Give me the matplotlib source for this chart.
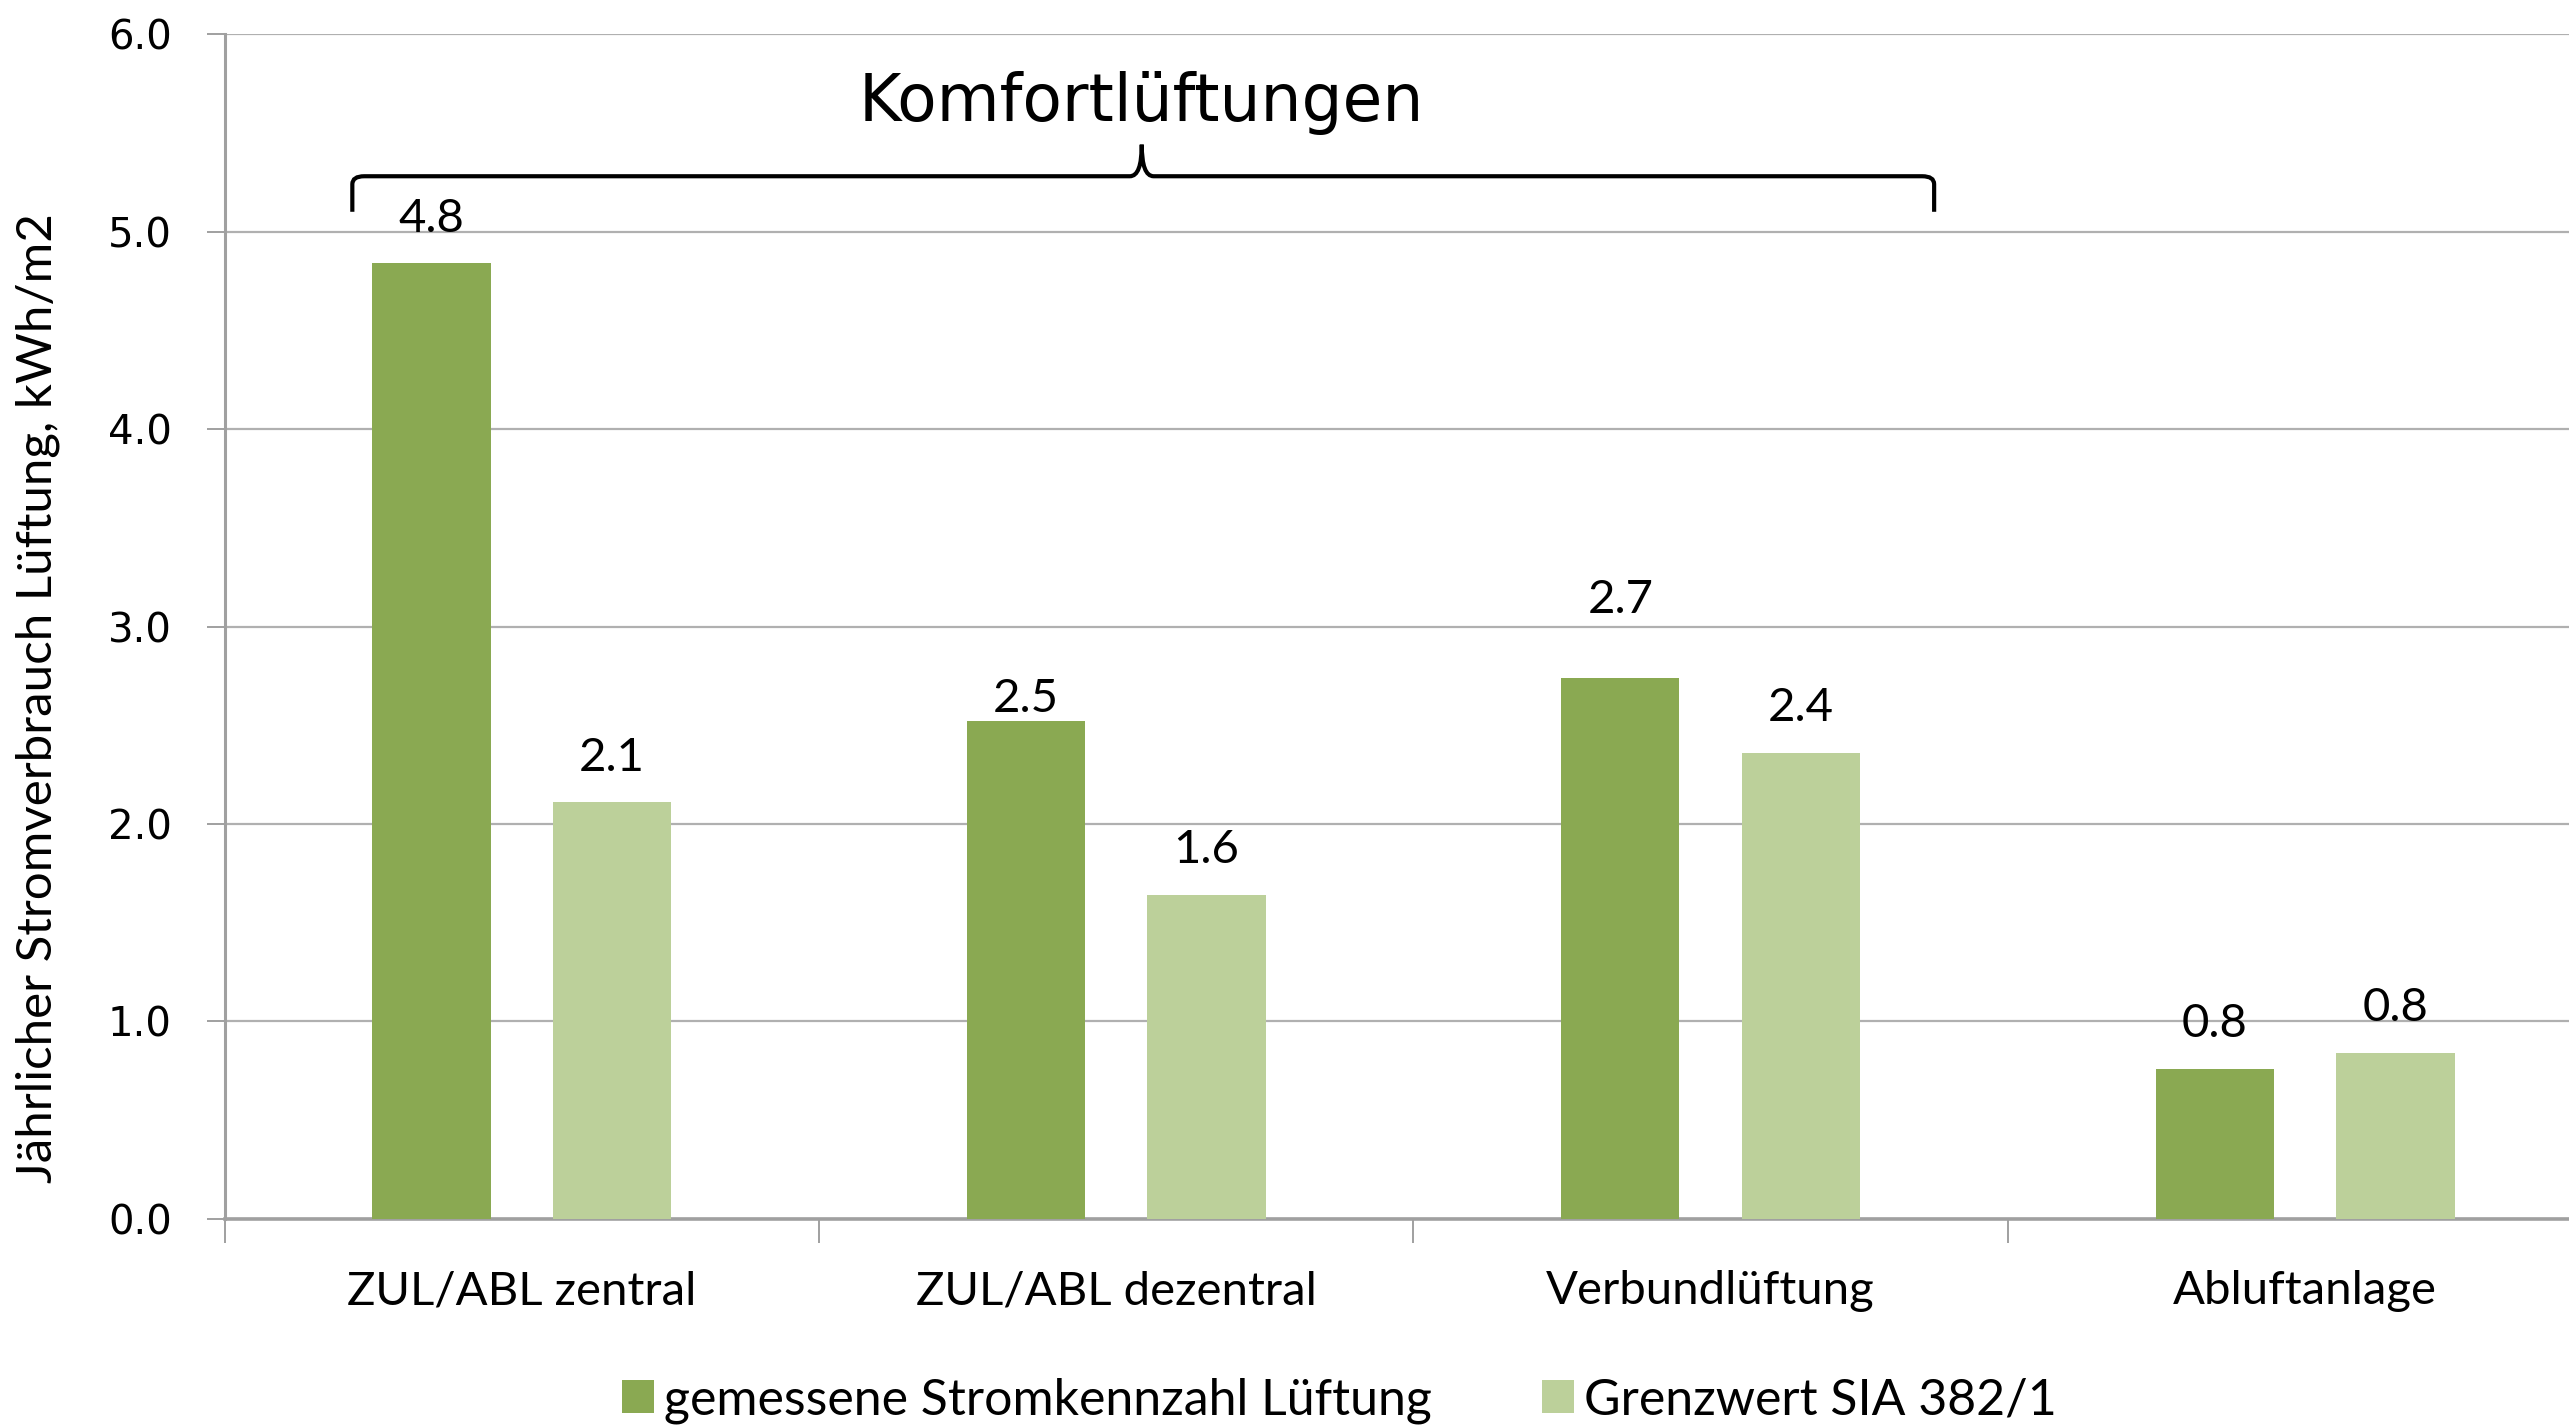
import matplotlib.pyplot as plt
import numpy as np
from matplotlib.path import Path
from matplotlib.patches import PathPatch

categories = ['ZUL/ABL zentral', 'ZUL/ABL dezentral', 'Verbundlüftung', 'Abluftanlage']
gemessen = [4.84, 2.52, 2.74, 0.76]
grenzwert = [2.11, 1.64, 2.36, 0.84]
series_names = ['gemessene Stromkennzahl Lüftung', 'Grenzwert SIA 382/1']
y_ticks = [0.0, 1.0, 2.0, 3.0, 4.0, 5.0, 6.0]

dark = '#8aa952'
light = '#bcd09a'
lab_font = 'Lato'
num_font = 'DejaVu Sans'

fig = plt.figure(figsize=(25.69, 14.25), dpi=100)
ax = fig.add_axes([0.0874, 0.1446, 0.9126, 0.8315])

x = np.arange(len(categories))
w = 0.199
off = 0.152
b1 = ax.bar(x - off, gemessen, w, color=dark, label=series_names[0], zorder=3)
b2 = ax.bar(x + off, grenzwert, w, color=light, label=series_names[1], zorder=3)

# the original labels were hand placed for two bars
nudge = {(0, 1): -16, (0, 2): 24}
for si, (bars, vals) in enumerate([(b1, gemessen), (b2, grenzwert)]):
    for i, (r, v) in enumerate(zip(bars, vals)):
        ax.annotate(f'{v:.1f}', (r.get_x() + r.get_width() / 2, v),
                    xytext=(0, 17 + nudge.get((si, i), 0)), textcoords='offset points',
                    ha='center', va='bottom', fontsize=34, family=lab_font)

ax.set_ylim(0, 6)
ax.set_yticks(y_ticks)
ax.set_yticklabels([f'{t:.1f}' for t in y_ticks], fontsize=29, family=num_font)
ax.yaxis.grid(True, color='#b0b0b0', linewidth=1.6, zorder=0)

# category boundaries as ticks, labels in the middle
ax.set_xticks(np.arange(-0.5, 4.0, 1.0))
ax.set_xticklabels([])
ax.set_xticks(x, minor=True)
ax.set_xticklabels(categories, minor=True, fontsize=34, family=lab_font)
ax.set_xlim(-0.5, 3.444)
ax.tick_params(axis='x', which='major', length=17, width=1.2, color='#909090')
ax.tick_params(axis='x', which='minor', length=0, pad=37)
ax.tick_params(axis='y', length=13, width=1.2, color='#909090', pad=25)

for s in ['top', 'right']:
    ax.spines[s].set_visible(False)
ax.spines['left'].set_color('#a0a0a0')
ax.spines['left'].set_linewidth(2.2)
ax.spines['bottom'].set_color('#a0a0a0')
ax.spines['bottom'].set_linewidth(2.6)

ax.set_ylabel('Jährlicher Stromverbrauch Lüftung, kWh/m2', fontsize=35.5,
              family=lab_font, va='center')
ax.yaxis.set_label_coords(-0.0795, 0.44)

# brace over the comfort ventilation groups
xl, xr, xc = -0.285, 2.376, 1.043
yh, ye, yt = 5.28, 5.10, 5.44
dx, dy = 0.02, 0.04
verts = [(xl, ye), (xl, yh - dy), (xl, yh), (xl + dx, yh),
         (xc - dx, yh), (xc, yh), (xc, yt),
         (xc, yh), (xc + dx, yh),
         (xr - dx, yh), (xr, yh), (xr, yh - dy), (xr, ye)]
codes = [Path.MOVETO, Path.LINETO, Path.CURVE3, Path.CURVE3,
         Path.LINETO, Path.CURVE3, Path.CURVE3,
         Path.CURVE3, Path.CURVE3,
         Path.LINETO, Path.CURVE3, Path.CURVE3, Path.LINETO]
ax.add_patch(PathPatch(Path(verts, codes), fill=False, lw=3, color='black',
                       zorder=4, clip_on=False))
ax.text(xc, 5.65, 'Komfortlüftungen', ha='center', va='center', fontsize=46.5,
        family=num_font)

fig.legend(handles=[b1, b2], loc='center', bbox_to_anchor=(0.5215, 0.017),
           ncol=2, frameon=False, prop={'family': lab_font, 'size': 36},
           handlelength=0.64, handleheight=0.64, handletextpad=0.2, columnspacing=2.2)

fig.savefig('out.png', dpi=100)
